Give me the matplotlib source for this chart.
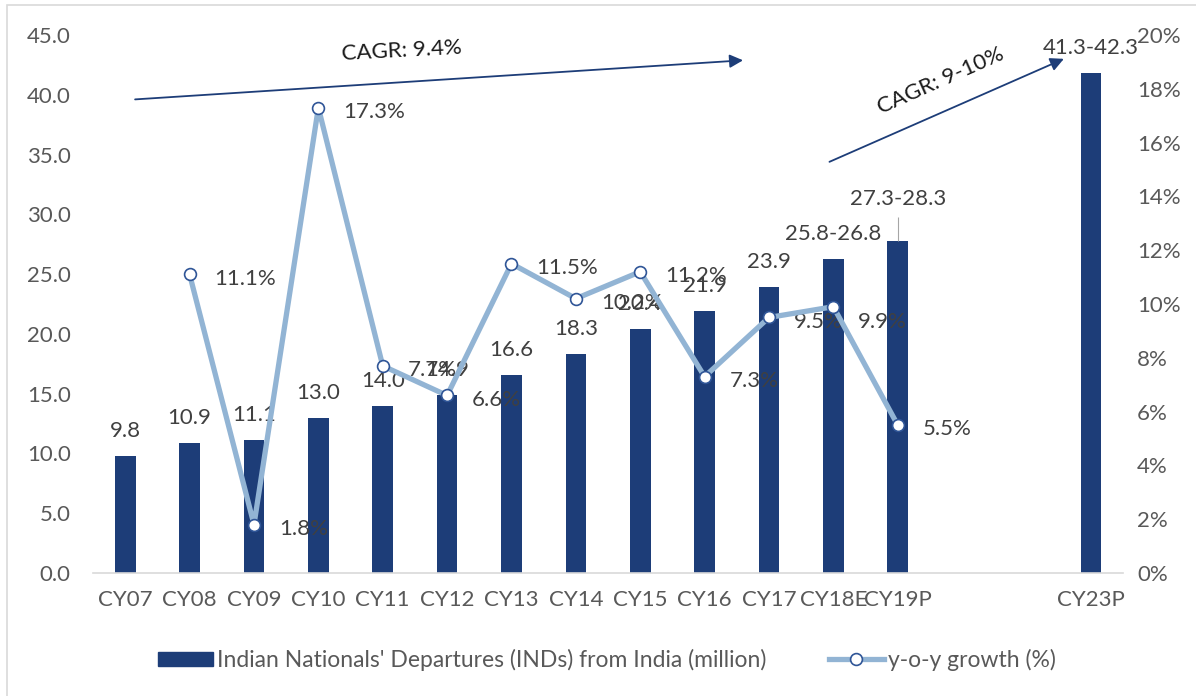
import numpy as np
import matplotlib.pyplot as plt
from matplotlib.patches import Rectangle
from matplotlib.ticker import FuncFormatter, MultipleLocator

plt.rcParams['font.family'] = ['Lato', 'DejaVu Sans']

# data
categories = ['CY07', 'CY08', 'CY09', 'CY10', 'CY11', 'CY12', 'CY13', 'CY14',
              'CY15', 'CY16', 'CY17', 'CY18E', 'CY19P', '', '', 'CY23P']
departures = [9.8, 10.9, 11.1, 13.0, 14.0, 14.9, 16.6, 18.3, 20.4, 21.9, 23.9,
              26.3, 27.8, np.nan, np.nan, 41.8]
bar_labels = ['9.8', '10.9', '11.1', '13.0', '14.0', '14.9', '16.6', '18.3', '20.4',
              '21.9', '23.9', '25.8-26.8', '27.3-28.3', '', '', '41.3-42.3']
growth = [np.nan, 11.1, 1.8, 17.3, 7.7, 6.6, 11.5, 10.2, 11.2, 7.3, 9.5, 9.9, 5.5,
          np.nan, np.nan, np.nan]

navy = '#1D3D78'
light = '#92B4D4'
txt = '#404040'
tick_c = '#595959'
fs = 16

fig = plt.figure(figsize=(11.96, 6.96), dpi=100)
ax = fig.add_axes([0.0778, 0.1767, 0.8612, 0.773])
ax2 = ax.twinx()

x = np.arange(len(categories))
dep = np.array(departures)
has_bar = ~np.isnan(dep)
ax.bar(x[has_bar], dep[has_bar], width=0.32, color=navy, zorder=2)

# bar labels
for i in x[has_bar]:
    off = 30 if categories[i] == 'CY19P' else 18
    ax.annotate(bar_labels[i], (i, dep[i]), xytext=(0, off), textcoords='offset points',
                ha='center', va='center', fontsize=fs, color=txt, zorder=3)
# leader line for CY19P label
i19 = categories.index('CY19P')
ax.vlines(i19, dep[i19], dep[i19] + 2.0, color='#A6A6A6', lw=0.8)

ax.set_xlim(-0.5, len(categories) - 0.5)
ax.set_ylim(0, 45)
ax.yaxis.set_major_locator(MultipleLocator(5))
ax.yaxis.set_major_formatter(FuncFormatter(lambda v, p: f'{v:.1f}'))
ax.set_xticks(x)
ax.set_xticklabels(categories)
for s in ['top', 'right', 'left']:
    ax.spines[s].set_visible(False)
ax.spines['bottom'].set_color('#D9D9D9')
ax.spines['bottom'].set_linewidth(1.2)
ax.tick_params(axis='both', length=0, labelsize=fs, colors=tick_c)
ax.tick_params(axis='y', pad=16)
ax.tick_params(axis='x', pad=12)

# growth line
gr = np.array(growth)
ax2.plot(x, gr, color=light, lw=3.8, marker='o', markersize=8.5,
         markerfacecolor='white', markeredgecolor='#2F5597', markeredgewidth=1.2,
         zorder=4)
for i in x[~np.isnan(gr)]:
    dy = -11 if categories[i] == 'CY18E' else -3
    ax2.annotate(f'{gr[i]:.1f}%', (i, gr[i]), xytext=(18, dy), textcoords='offset points',
                 ha='left', va='center', fontsize=fs, color=txt)
ax2.set_ylim(0, 20)
ax2.yaxis.set_major_locator(MultipleLocator(2))
ax2.yaxis.set_major_formatter(FuncFormatter(lambda v, p: f'{v:.0f}%'))
for s in ['top', 'right', 'left', 'bottom']:
    ax2.spines[s].set_visible(False)
ax2.tick_params(axis='y', length=0, labelsize=fs, colors=tick_c, pad=10)

# CAGR arrows
arrow = dict(arrowstyle='-|>', color=navy, lw=1.3, mutation_scale=20)
ax.annotate('', xy=(9.64, 42.9), xytext=(0.11, 39.6), arrowprops=arrow)
ax.text(4.29, 43.7, 'CAGR: 9.4%', rotation=3, ha='center', va='center',
        fontsize=fs, color='#1A1A1A')
ax.annotate('', xy=(14.62, 43.1), xytext=(10.9, 34.3), arrowprops=arrow)
ax.text(12.67, 41.2, 'CAGR: 9-10%', rotation=24, ha='center', va='center',
        fontsize=fs, color='#1A1A1A', rotation_mode='anchor')

# legend
h1 = Rectangle((0, 0), 1, 1, color=navy)
h2, = ax2.plot([], [], color=light, lw=3.8, marker='o', markersize=8.5,
               markerfacecolor='white', markeredgecolor='#2F5597', markeredgewidth=1.2)
fig.legend([h1, h2], ["Indian Nationals' Departures (INDs) from India (million)",
                      'y-o-y growth (%)'],
           loc='center', bbox_to_anchor=(607 / 1196, 0.052), ncol=2, frameon=False,
           fontsize=16.5, labelcolor=tick_c, handlelength=2.4, handleheight=0.6,
           handletextpad=0.2, columnspacing=2.7)

# outer frame
fig.patches.append(Rectangle((7 / 1196, -0.05), 1.2, 1 - 5 / 696 + 0.05,
                             transform=fig.transFigure, fill=False,
                             edgecolor='#D9D9D9', lw=1.2))

fig.savefig('out.png', dpi=100)
